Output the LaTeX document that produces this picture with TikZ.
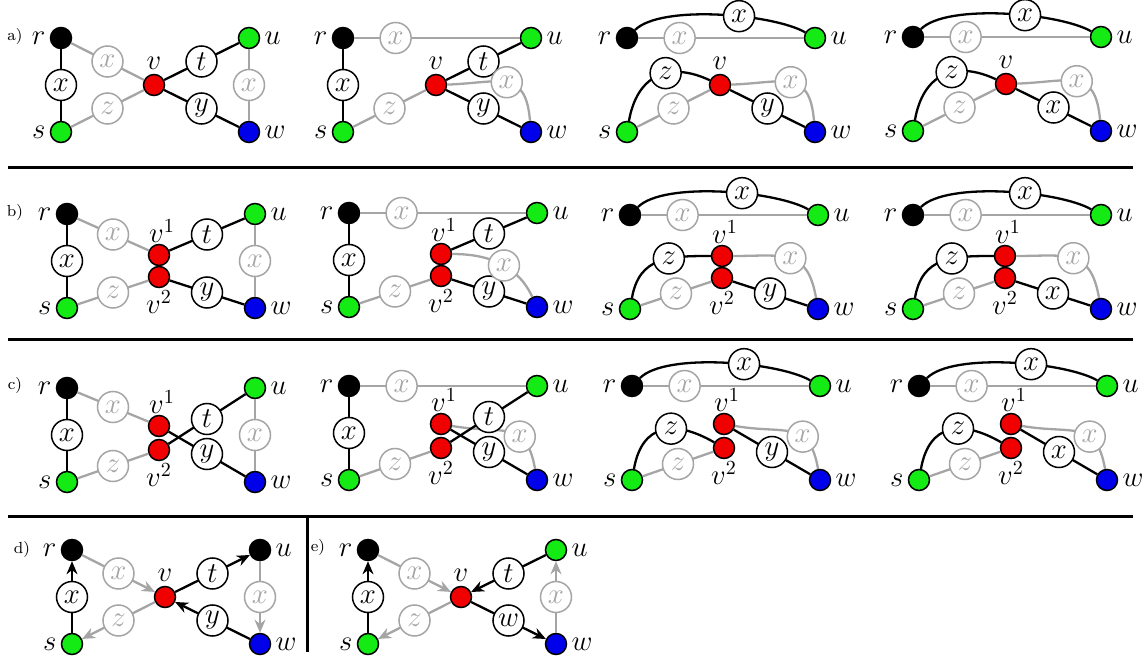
\documentclass[tikz,border=0pt]{standalone}
\usetikzlibrary{arrows.meta}
\definecolor{vgreen}{RGB}{20,235,20}
\definecolor{vblue}{RGB}{0,0,235}
\definecolor{vred}{RGB}{240,0,0}
\definecolor{ghost}{RGB}{165,165,165}
\tikzset{
	vtx/.style={circle,draw,line width=0.75pt,minimum size=10.5pt,inner sep=0pt},
	vname/.style={font=\Large,inner sep=2pt},
	lbl/.style={circle,draw,fill=white,line width=0.75pt,minimum size=15.5pt,inner sep=0pt,font=\Large},
	glbl/.style={lbl,draw=ghost,text=ghost},
	bedge/.style={line width=1.15pt},
	gedge/.style={line width=1.15pt,ghost},
	tag/.style={font=\footnotesize},
	divider/.style={line width=1.5pt},
}
% outer vertices r,s,u,w; #1 = fill of u
\newcommand{\cornerverts}[1]{%
	\node[vtx,fill=black,label={[vname]left:$r$}] (r) at (0,0) {};
	\node[vtx,fill=vgreen,label={[vname]left:$s$}] (s) at (0,-94) {};
	\node[vtx,fill=#1,label={[vname]right:$u$}] (u) at (188,0) {};
	\node[vtx,fill=vblue,label={[vname]right:$w$}] (w) at (188,-94) {};}
\newcommand{\midv}{\node[vtx,fill=vred,label={[vname]above:$v$}] (v) at (93,-47) {};}
% v split in two copies, #1 and #2 = heights
\newcommand{\splitv}[2]{%
	\node[vtx,fill=vred,label={[vname,inner sep=0.3pt,xshift=1.5pt]above:$v^1$}] (v1) at (92,#1) {};
	\node[vtx,fill=vred,label={[vname,inner sep=0.8pt]below:$v^2$}] (v2) at (92,#2) {};}
\begin{document}
\begin{tikzpicture}[>={Stealth[length=6.5pt,width=5.5pt]},x=0.5pt,y=0.5pt]
	\useasboundingbox (0,0) rectangle (1148,-658);
	\node[tag] (taga) at (15,-37) {a)};
	\node[tag] (tagb) at (15,-213) {b)};
	\node[tag] (tagc) at (15,-385) {c)};
	\node[tag] (tagd) at (22,-549) {d)};
	\node[tag] (tage) at (318,-548) {e)};
	\draw[divider] (8,-168) -- (1133,-168);
	\draw[divider] (8,-340) -- (1133,-340);
	\draw[divider] (8,-516) -- (1133,-516);
	\draw[divider] (307,-516) -- (307,-652);
	% row a
	\begin{scope}[shift={(61,-38)}]
		\cornerverts{vgreen}\midv
		\draw[bedge] (r) -- node[lbl] (rs) {$x$} (s);
		\draw[gedge] (r) -- node[glbl] (rv) {$x$} (v);
		\draw[gedge] (s) -- node[glbl] (sv) {$z$} (v);
		\draw[bedge] (v) -- node[lbl] (vu) {$t$} (u);
		\draw[bedge] (v) -- node[lbl] (vw) {$y$} (w);
		\draw[gedge] (u) -- node[glbl] (uw) {$x$} (w);
	\end{scope}
	\begin{scope}[shift={(343,-38)}]
		\cornerverts{vgreen}\midv
		\draw[gedge] (r) -- node[glbl,pos=0.25] (ru) {$x$} (u);
		\draw[bedge] (r) -- node[lbl] (rs) {$x$} (s);
		\draw[gedge] (s) -- node[glbl] (sv) {$z$} (v);
		\draw[bedge] (v) -- node[lbl] (vu) {$t$} (u);
		\draw[bedge] (v) -- node[lbl] (vw) {$y$} (w);
		\draw[gedge] (v) to[out=2,in=95,looseness=1.5] node[glbl] (vwg) {$x$} (w);
	\end{scope}
	\begin{scope}[shift={(627,-38)}]
		\cornerverts{vgreen}\midv
		\draw[gedge] (r) -- node[glbl,pos=0.25] (ru) {$x$} (u);
		\draw[bedge] (r) to[out=45,in=150,looseness=0.55] node[lbl,pos=0.6] (ruc) {$x$} (u);
		\draw[gedge] (s) -- node[glbl] (sv) {$z$} (v);
		\draw[bedge] (s) to[out=80,in=155,looseness=1.3] node[lbl,pos=0.6] (svc) {$z$} (v);
		\draw[bedge] (v) -- node[lbl] (vw) {$y$} (w);
		\draw[gedge] (v) to[out=2,in=95,looseness=1.5] node[glbl] (vwg) {$x$} (w);
	\end{scope}
	\begin{scope}[shift={(913,-37)}]
		\cornerverts{vgreen}\midv
		\draw[gedge] (r) -- node[glbl,pos=0.25] (ru) {$x$} (u);
		\draw[bedge] (r) to[out=45,in=150,looseness=0.55] node[lbl,pos=0.6] (ruc) {$x$} (u);
		\draw[gedge] (s) -- node[glbl] (sv) {$z$} (v);
		\draw[bedge] (s) to[out=80,in=155,looseness=1.3] node[lbl,pos=0.6] (svc) {$z$} (v);
		\draw[bedge] (v) -- node[lbl] (vw) {$x$} (w);
		\draw[gedge] (v) to[out=2,in=95,looseness=1.5] node[glbl] (vwg) {$x$} (w);
	\end{scope}
	% row b
	\begin{scope}[shift={(67,-214)}]
		\cornerverts{vgreen}\splitv{-41}{-63}
		\draw[bedge] (r) -- node[lbl] (rs) {$x$} (s);
		\draw[gedge] (r) -- node[glbl] (rv) {$x$} (v1);
		\draw[gedge] (s) -- node[glbl] (sv) {$z$} (v2);
		\draw[bedge] (v1) -- node[lbl] (vu) {$t$} (u);
		\draw[bedge] (v2) -- node[lbl] (vw) {$y$} (w);
		\draw[gedge] (u) -- node[glbl] (uw) {$x$} (w);
	\end{scope}
	\begin{scope}[shift={(349,-213)}]
		\cornerverts{vgreen}\splitv{-41}{-63}
		\draw[gedge] (r) -- node[glbl,pos=0.25] (ru) {$x$} (u);
		\draw[bedge] (r) -- node[lbl] (rs) {$x$} (s);
		\draw[gedge] (s) -- node[glbl] (sv) {$z$} (v2);
		\draw[bedge] (v1) -- node[lbl] (vu) {$t$} (u);
		\draw[bedge] (v2) -- node[lbl] (vw) {$y$} (w);
		\draw[gedge] (v1) to[out=0,in=115] node[glbl,pos=0.55] (vwg) {$x$} (w);
	\end{scope}
	\begin{scope}[shift={(630,-215)}]
		\cornerverts{vgreen}\splitv{-41}{-63}
		\draw[gedge] (r) -- node[glbl,pos=0.25] (ru) {$x$} (u);
		\draw[bedge] (r) to[out=45,in=150,looseness=0.55] node[lbl,pos=0.6] (ruc) {$x$} (u);
		\draw[gedge] (s) -- node[glbl] (sv) {$z$} (v2);
		\draw[bedge] (s) to[out=80,in=180,looseness=1.2] node[lbl,pos=0.62] (svc) {$z$} (v1);
		\draw[bedge] (v2) -- node[lbl] (vw) {$y$} (w);
		\draw[gedge] (v1) to[out=0,in=100,looseness=1.4] node[glbl] (vwg) {$x$} (w);
	\end{scope}
	\begin{scope}[shift={(913,-215)}]
		\cornerverts{vgreen}\splitv{-41}{-63}
		\draw[gedge] (r) -- node[glbl,pos=0.25] (ru) {$x$} (u);
		\draw[bedge] (r) to[out=45,in=150,looseness=0.55] node[lbl,pos=0.6] (ruc) {$x$} (u);
		\draw[gedge] (s) -- node[glbl] (sv) {$z$} (v2);
		\draw[bedge] (s) to[out=80,in=180,looseness=1.2] node[lbl,pos=0.62] (svc) {$z$} (v1);
		\draw[bedge] (v2) -- node[lbl] (vw) {$x$} (w);
		\draw[gedge] (v1) to[out=0,in=100,looseness=1.4] node[glbl] (vwg) {$x$} (w);
	\end{scope}
	% row c
	\begin{scope}[shift={(67,-388)}]
		\cornerverts{vgreen}\splitv{-38}{-62}
		\draw[bedge] (r) -- node[lbl] (rs) {$x$} (s);
		\draw[gedge] (r) -- node[glbl] (rv) {$x$} (v1);
		\draw[gedge] (s) -- node[glbl] (sv) {$z$} (v2);
		\draw[bedge] (v1) -- node[lbl] (vw) {$y$} (w);
		\draw[bedge] (v2) -- node[lbl] (vu) {$t$} (u);
		\draw[gedge] (u) -- node[glbl] (uw) {$x$} (w);
	\end{scope}
	\begin{scope}[shift={(349,-386)}]
		\cornerverts{vgreen}\splitv{-38}{-62}
		\draw[gedge] (r) -- node[glbl,pos=0.25] (ru) {$x$} (u);
		\draw[bedge] (r) -- node[lbl] (rs) {$x$} (s);
		\draw[gedge] (s) -- node[glbl] (sv) {$z$} (v2);
		\draw[gedge] (v1) to[out=-10,in=100,looseness=1.4] node[glbl,pos=0.65] (vwg) {$x$} (w);
		\draw[bedge] (v1) -- node[lbl] (vw) {$y$} (w);
		\draw[bedge] (v2) -- node[lbl] (vu) {$t$} (u);
	\end{scope}
	\begin{scope}[shift={(632,-386)}]
		\cornerverts{vgreen}\splitv{-38}{-62}
		\draw[gedge] (r) -- node[glbl,pos=0.25] (ru) {$x$} (u);
		\draw[bedge] (r) to[out=45,in=150,looseness=0.55] node[lbl,pos=0.6] (ruc) {$x$} (u);
		\draw[gedge] (s) -- node[glbl] (sv) {$z$} (v2);
		\draw[bedge] (s) to[out=80,in=150,looseness=1.4] node[lbl,pos=0.6] (svc) {$z$} (v2);
		\draw[gedge] (v1) to[out=-10,in=100,looseness=1.4] node[glbl,pos=0.65] (vwg) {$x$} (w);
		\draw[bedge] (v1) -- node[lbl] (vw) {$y$} (w);
	\end{scope}
	\begin{scope}[shift={(919,-386)}]
		\cornerverts{vgreen}\splitv{-38}{-62}
		\draw[gedge] (r) -- node[glbl,pos=0.25] (ru) {$x$} (u);
		\draw[bedge] (r) to[out=45,in=150,looseness=0.55] node[lbl,pos=0.6] (ruc) {$x$} (u);
		\draw[gedge] (s) -- node[glbl] (sv) {$z$} (v2);
		\draw[bedge] (s) to[out=80,in=150,looseness=1.4] node[lbl,pos=0.6] (svc) {$z$} (v2);
		\draw[gedge] (v1) to[out=-10,in=100,looseness=1.4] node[glbl,pos=0.65] (vwg) {$x$} (w);
		\draw[bedge] (v1) -- node[lbl] (vw) {$x$} (w);
	\end{scope}
	% row d
	\begin{scope}[shift={(72,-550)}]
		\cornerverts{black}\midv
		\draw[bedge,->] (s) -- node[lbl] (rs) {$x$} (r);
		\draw[gedge,->] (r) -- node[glbl] (rv) {$x$} (v);
		\draw[gedge,->] (v) -- node[glbl] (sv) {$z$} (s);
		\draw[bedge,->] (v) -- node[lbl] (vu) {$t$} (u);
		\draw[bedge,->] (w) -- node[lbl] (vw) {$y$} (v);
		\draw[gedge,->] (u) -- node[glbl] (uw) {$x$} (w);
	\end{scope}
	% row e
	\begin{scope}[shift={(368,-550)}]
		\cornerverts{vgreen}\midv
		\draw[bedge,->] (s) -- node[lbl] (rs) {$x$} (r);
		\draw[gedge,->] (r) -- node[glbl] (rv) {$x$} (v);
		\draw[gedge,->] (v) -- node[glbl] (sv) {$z$} (s);
		\draw[bedge,->] (u) -- node[lbl] (vu) {$t$} (v);
		\draw[bedge,->] (v) -- node[lbl] (vw) {$w$} (w);
		\draw[gedge,->] (w) -- node[glbl] (uw) {$x$} (u);
	\end{scope}
\end{tikzpicture}
\end{document}
